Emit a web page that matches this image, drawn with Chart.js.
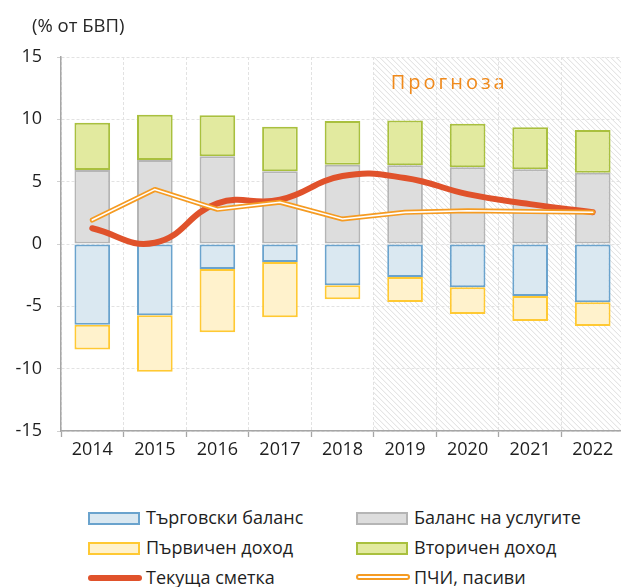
<!DOCTYPE html>
<html><head><meta charset="utf-8">
<script src="https://cdn.jsdelivr.net/npm/chart.js@4.4.1/dist/chart.umd.min.js"></script>
<style>
html,body{margin:0;padding:0;background:#fff;overflow:hidden;width:621px;height:587px;position:relative}
#wrap{position:absolute;left:0;top:0;width:624px;height:470px}
#title{position:absolute;left:32px;top:12px;font:18.5px 'Open Sans',sans-serif;color:#262626;white-space:nowrap}
.leg{position:absolute;height:20px;font:18px 'Open Sans',sans-serif;color:#1E1E1E;white-space:nowrap;line-height:20px}
.sym{position:absolute;top:4px;width:49px;height:9px;box-sizing:content-box}
.txt{position:absolute;top:-1px}
</style></head>
<body>
<div id="wrap"><canvas id="c" width="624" height="470"></canvas></div>
<div id="title">(% от БВП)</div>
<div id="legend"></div>
<script>
const years = ['2014','2015','2016','2017','2018','2019','2020','2021','2022'];
const tradeBalance = [-6.47,-5.72,-2.0,-1.44,-3.31,-2.65,-3.47,-4.17,-4.68];
const servicesBalance = [5.93,6.74,7.03,5.83,6.36,6.31,6.15,5.99,5.72];
const primaryIncome = [-2.0,-4.52,-5.08,-4.44,-1.13,-2.0,-2.14,-2.0,-1.9];
const secondaryIncome = [3.8,3.63,3.29,3.58,3.5,3.6,3.5,3.37,3.42];
const currentAccount = [1.26,0.1,3.26,3.55,5.45,5.3,4.0,3.2,2.55];
const fdiLiabilities = [1.92,4.38,2.78,3.35,2.0,2.54,2.67,2.6,2.55];
const forecastFrom = '2019';
const forecastLabel = 'Прогноза';
const yTicks = [-15,-10,-5,0,5,10,15];

const names = {
  trade:'Търговски баланс', services:'Баланс на услугите',
  primary:'Първичен доход', secondary:'Вторичен доход',
  ca:'Текуща сметка', fdi:'ПЧИ, пасиви'
};
const col = {
  tradeF:'#DAE8F1', tradeB:'#6AA3CD',
  servF:'#DDDDDD', servB:'#B5B5B5',
  primF:'#FFF2CC', primB:'#FFC933',
  secF:'#E2EA9F', secB:'#A9C03E',
  ca:'#E0522B', fdi:'#F59B22'
};

const forecastPlugin = {
  id:'forecast',
  beforeDraw(chart){
    const {ctx, chartArea:a, scales:{x}} = chart;
    const i = years.indexOf(forecastFrom);
    const x0 = (x.getPixelForValue(i-1) + x.getPixelForValue(i))/2;
    ctx.save();
    ctx.beginPath(); ctx.rect(x0, a.top, a.right-x0, a.bottom-a.top); ctx.clip();
    ctx.strokeStyle = '#DDDDDD'; ctx.lineWidth = 1;
    const h = a.bottom - a.top;
    for (let s = x0 - h; s < a.right; s += 5.5) {
      ctx.beginPath(); ctx.moveTo(s, a.top); ctx.lineTo(s + h, a.bottom); ctx.stroke();
    }
    ctx.restore();
    ctx.save();
    ctx.fillStyle = '#F08A1C';
    ctx.font = '20px "Open Sans"';
    ctx.letterSpacing = '3px';
    ctx.textAlign = 'left'; ctx.textBaseline = 'middle';
    ctx.fillText(forecastLabel, x0 + 17, a.top + 26);
    ctx.restore();
  }
};

const tickFont = {family:'Open Sans', size:18};
new Chart(document.getElementById('c'), {
  type:'bar',
  data:{
    labels: years,
    datasets:[
      {label:names.trade, data:tradeBalance, backgroundColor:col.tradeF, borderColor:col.tradeB, borderWidth:2, borderSkipped:false, order:5},
      {label:names.services, data:servicesBalance, backgroundColor:col.servF, borderColor:col.servB, borderWidth:2, borderSkipped:false, order:5},
      {label:names.primary, data:primaryIncome, backgroundColor:col.primF, borderColor:col.primB, borderWidth:2, borderSkipped:false, order:5},
      {label:names.secondary, data:secondaryIncome, backgroundColor:col.secF, borderColor:col.secB, borderWidth:2, borderSkipped:false, order:5},
      {type:'line', label:names.ca, data:currentAccount, stack:'ca', borderColor:col.ca, borderWidth:6, tension:0.45, pointRadius:0, borderCapStyle:'round', borderJoinStyle:'round', fill:false, order:2},
      {type:'line', label:names.fdi, data:fdiLiabilities, stack:'fdi1', borderColor:col.fdi, borderWidth:5, tension:0, pointRadius:0, borderCapStyle:'round', borderJoinStyle:'round', fill:false, order:1},
      {type:'line', label:names.fdi+' ', data:fdiLiabilities, stack:'fdi2', borderColor:'#FFFFFF', borderWidth:1.6, tension:0, pointRadius:0, borderCapStyle:'round', borderJoinStyle:'round', fill:false, order:0}
    ]
  },
  options:{
    responsive:false, animation:false,
    devicePixelRatio:1,
    layout:{padding:{top:57,left:0,right:0,bottom:0}},
    plugins:{legend:{display:false}, tooltip:{enabled:false}},
    datasets:{bar:{barPercentage:0.57, categoryPercentage:1}},
    scales:{
      x:{
        stacked:true,
        grid:{offset:true, color:'#E2E2E2', lineWidth:1, tickColor:'#A6A6A6', tickLength:6, tickWidth:1.3, tickBorderDash:[]},
        border:{display:true, color:'#A6A6A6', width:1.5, dash:[3,2]},
        ticks:{font:tickFont, color:'#1E1E1E', padding:2, maxRotation:0},
        afterFit(s){ s.height = 39; }
      },
      y:{
        stacked:true, min:-15, max:15,
        afterBuildTicks(s){ s.ticks = yTicks.map(v=>({value:v})); },
        grid:{color:'#E2E2E2', lineWidth:1, tickColor:'#D0D0D0', tickLength:4, tickBorderDash:[]},
        border:{display:true, color:'#A6A6A6', width:1.5, dash:[3,2]},
        ticks:{font:tickFont, color:'#1E1E1E', padding:15},
        afterFit(s){ s.width = 61; }
      }
    }
  },
  plugins:[forecastPlugin]
});

// HTML legend
const legendItems = [
  {k:'trade', x:88, y:508, box:[col.tradeF, col.tradeB]},
  {k:'services', x:356, y:508, box:[col.servF, col.servB]},
  {k:'primary', x:88, y:538, box:[col.primF, col.primB]},
  {k:'secondary', x:356, y:538, box:[col.secF, col.secB]},
  {k:'ca', x:88, y:568, line:'ca'},
  {k:'fdi', x:356, y:568, line:'fdi'}
];
const L = document.getElementById('legend');
legendItems.forEach(it=>{
  const d = document.createElement('div');
  d.className = 'leg';
  d.style.left = it.x + 'px'; d.style.top = it.y + 'px';
  const s = document.createElement('span');
  s.className = 'sym';
  if (it.box) {
    s.style.background = it.box[0];
    s.style.border = '2px solid ' + it.box[1];
    s.style.width = '48px';
  } else if (it.line === 'ca') {
    s.style.top = '7px'; s.style.height = '6px'; s.style.width = '54px';
    s.style.background = col.ca; s.style.borderRadius = '3px';
  } else {
    s.style.top = '6px'; s.style.height = '2px'; s.style.width = '50px';
    s.style.background = '#fff'; s.style.border = '2px solid ' + col.fdi; s.style.borderRadius = '4px';
  }
  d.appendChild(s);
  const t = document.createElement('span');
  t.className = 'txt'; t.style.left = '58px';
  t.textContent = names[it.k];
  d.appendChild(t);
  L.appendChild(d);
});
</script>
</body></html>
